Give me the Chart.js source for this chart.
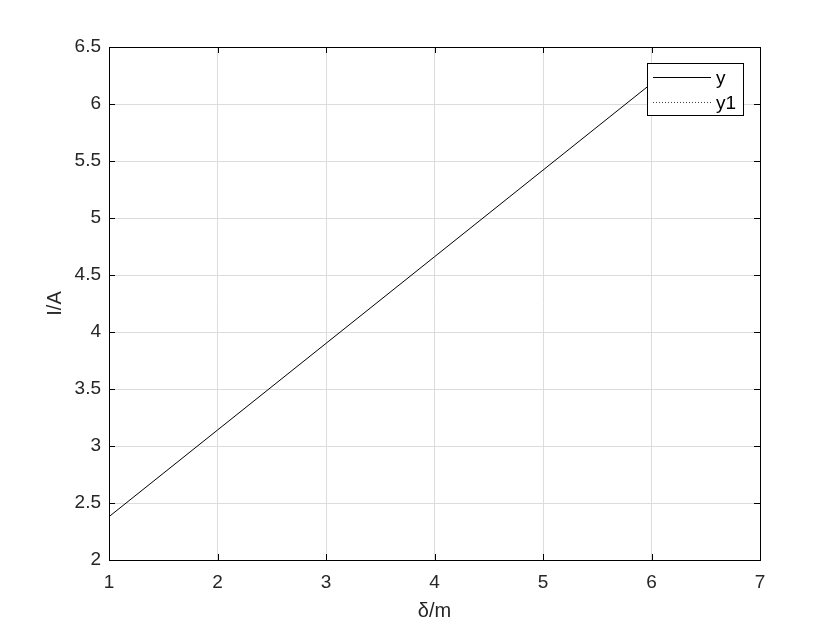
<!DOCTYPE html>
<html>
<head>
<meta charset="utf-8">
<script src="https://cdn.jsdelivr.net/npm/chart.js@4/dist/chart.umd.min.js"></script>
<style>
html,body{margin:0;padding:0;background:#fff;}
#wrap{width:840px;height:630px;}
</style>
</head>
<body>
<div id="wrap"><canvas id="c" width="840" height="630"></canvas></div>
<script>
const xValues = [1, 2, 3, 4, 5, 6];
const yValues = [2.38, 3.14, 3.90, 4.66, 5.42, 6.18];
const y1Values = [];
const seriesLabels = ['y', 'y1'];
const xTitle = 'δ/m';
const yTitle = 'I/A';

const FONT = '"Liberation Sans", Arial, sans-serif';

const boxPlugin = {
  id: 'boxTicks',
  afterDraw(chart) {
    const ctx = chart.ctx;
    const a = chart.chartArea;
    const xs = chart.scales.x, ys = chart.scales.y;
    ctx.save();
    ctx.strokeStyle = '#000';
    ctx.lineWidth = 1;
    ctx.strokeRect(Math.round(a.left) + 0.5, Math.round(a.top) + 0.5, Math.round(a.right - a.left), Math.round(a.bottom - a.top));
    const L = 6;
    ctx.beginPath();
    xs.ticks.forEach(t => {
      const px = Math.round(xs.getPixelForValue(t.value)) + 0.5;
      ctx.moveTo(px, a.bottom); ctx.lineTo(px, a.bottom - L);
      ctx.moveTo(px, a.top); ctx.lineTo(px, a.top + L);
    });
    ys.ticks.forEach(t => {
      const py = Math.round(ys.getPixelForValue(t.value)) + 0.5;
      ctx.moveTo(a.left, py); ctx.lineTo(a.left + L, py);
      ctx.moveTo(a.right, py); ctx.lineTo(a.right - L, py);
    });
    ctx.stroke();
    // legend
    const lx = 647, ly = 63, lw = 96, lh = 52;
    ctx.fillStyle = '#fff';
    ctx.fillRect(lx, ly, lw, lh);
    ctx.strokeRect(lx + 0.5, ly + 0.5, lw, lh);
    ctx.font = '19px ' + FONT;
    ctx.textBaseline = 'middle';
    ctx.textAlign = 'left';
    chart.data.datasets.forEach((ds, i) => {
      const yy = ly + 14 + i * 25 + 0.5;
      ctx.beginPath();
      ctx.strokeStyle = ds.borderColor;
      ctx.setLineDash(ds.borderDash || []);
      ctx.moveTo(lx + 6, yy); ctx.lineTo(lx + 64, yy);
      ctx.stroke();
      ctx.setLineDash([]);
      ctx.fillStyle = '#000';
      ctx.fillText(ds.label, lx + 69, yy + 1);
    });
    ctx.restore();
  }
};

new Chart(document.getElementById('c'), {
  type: 'line',
  data: {
    datasets: [
      { label: seriesLabels[0], data: xValues.map((x, i) => ({x: x, y: yValues[i]})), borderColor: '#000', borderWidth: 1, pointRadius: 0, tension: 0, fill: false },
      { label: seriesLabels[1], data: y1Values, borderColor: '#444', borderWidth: 1, borderDash: [1, 2], pointRadius: 0, tension: 0, fill: false }
    ]
  },
  options: {
    responsive: false,
    animation: false,
    devicePixelRatio: 1,
    layout: { padding: { left: 0, right: 80, top: 47, bottom: 0 } },
    plugins: { legend: { display: false }, tooltip: { enabled: false } },
    scales: {
      x: {
        type: 'linear', min: 1, max: 7,
        ticks: { stepSize: 1, color: '#262626', font: { size: 19, family: FONT }, padding: 11, maxRotation: 0, callback: v => String(v) },
        grid: { color: '#dcdcdc', lineWidth: 1, drawTicks: false },
        border: { display: true, color: '#000' },
        title: { display: true, text: xTitle, color: '#262626', font: { size: 20, family: FONT }, padding: { top: 0, bottom: 7 } },
        afterFit(s) { s.height = 70; }
      },
      y: {
        type: 'linear', min: 2, max: 6.5,
        ticks: { stepSize: 0.5, color: '#262626', font: { size: 19, family: FONT }, padding: 8, callback: v => String(v) },
        grid: { color: '#dcdcdc', lineWidth: 1, drawTicks: false },
        border: { display: true, color: '#000' },
        title: { display: true, text: yTitle, color: '#262626', font: { size: 20, family: FONT }, padding: { top: 43, bottom: 0 } },
        afterFit(s) { s.width = 109; }
      }
    }
  },
  plugins: [boxPlugin]
});
</script>
</body>
</html>
